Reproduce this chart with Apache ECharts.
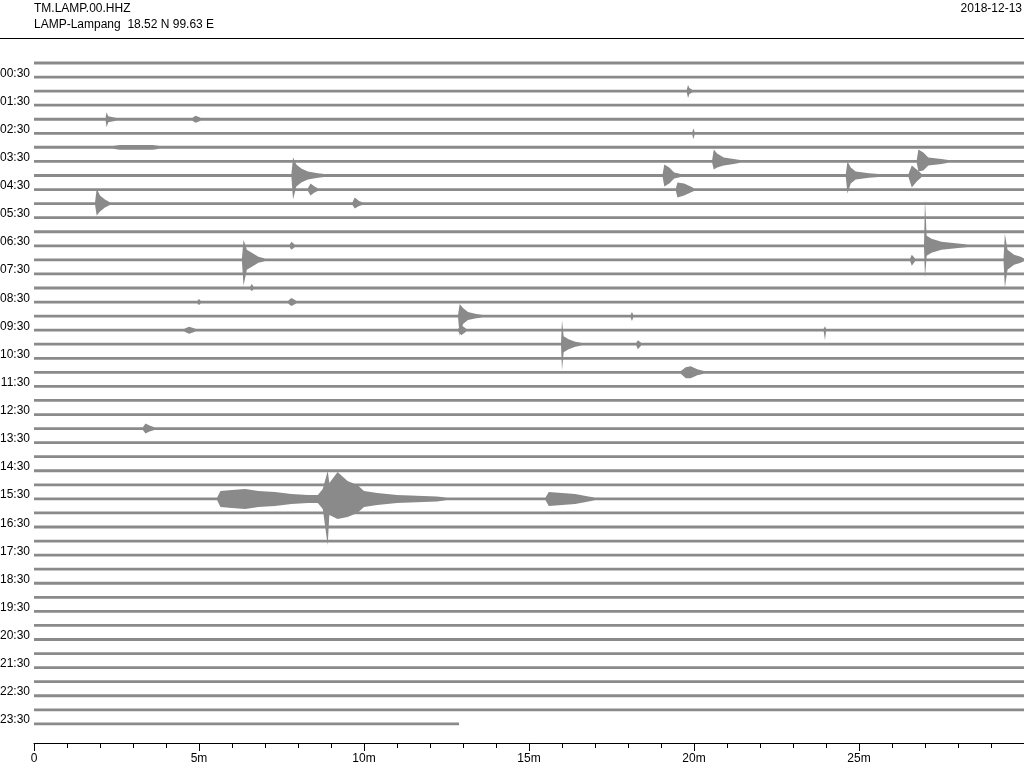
<!DOCTYPE html>
<html><head><meta charset="utf-8">
<script src="https://cdn.jsdelivr.net/npm/echarts@6/dist/echarts.min.js"></script>
<style>html,body{margin:0;padding:0;background:#fff}#c{width:1024px;height:768px}</style>
</head><body><div id="c"></div><script>
const stationCode = 'TM.LAMP.00.HHZ';
const stationInfo = 'LAMP-Lampang  18.52 N 99.63 E';
const dayLabel = '2018-12-13';
const hourLabels = ['00:30','01:30','02:30','03:30','04:30','05:30','06:30','07:30','08:30','09:30','10:30','11:30',
  '12:30','13:30','14:30','15:30','16:30','17:30','18:30','19:30','20:30','21:30','22:30','23:30'];
const minuteTickLabels = ['0','5m','10m','15m','20m','25m'];
const traceCount = 48;          // one trace per 30 minutes
const traceMinutes = 30;
const lastTraceEnd = 12.88;     // last trace stops at ~12.9 min
// background noise half-amplitude of each trace
const noiseLevel = [1.4,1.4,1.4,1.4,1.4,1.4,1.5,1.4,1.4,1.4,1.4,1.4,1.4,1.4,1.4,1.4,
  1.4,1.4,1.4,1.4,1.4,1.4,1.4,1.4,1.4,1.4,1.4,1.4,1.4,1.4,1.4,1.4,
  1.4,1.4,1.4,1.4,1.4,1.4,1.4,1.4,1.4,1.4,1.4,1.4,1.4,1.4,1.4,1.4];
// envelope vertices of the visible signals: [trace, minute, upper amplitude, lower amplitude]
const eventVertices = [
  [2,19.78,1.4,1.4],[2,19.82,6,7],[2,19.86,3,3],[2,19.95,1.4,1.4],
  [4,2.17,1.4,1.4],[4,2.2,7,8],[4,2.25,3,3],[4,2.4,2,2],[4,2.5,1.4,1.4],
  [4,4.8,1.4,1.4],[4,4.9,3.5,3.5],[4,5.05,1.4,1.4],
  [5,19.95,1.4,1.4],[5,19.98,5,6],[5,20.02,1.4,1.4],
  [6,2.4,1.5,1.5],[6,2.6,2.4,2.4],[6,3.6,2.4,2.4],[6,3.8,1.5,1.5],
  [7,20.55,1.4,1.4],[7,20.6,12,8],[7,20.7,8,6],[7,20.9,4,4],[7,21.2,2.5,2.5],[7,21.4,1.4,1.4],
  [7,26.75,1.4,1.4],[7,26.8,12,10],[7,26.95,9,9],[7,27.1,4,4],[7,27.5,2.5,2.5],[7,27.7,1.4,1.4],
  [8,7.8,1.4,1.4],[8,7.85,18,24],[8,7.95,11,11],[8,8.1,7,7],[8,8.3,4,4],[8,8.6,2.2,2.2],[8,8.8,1.4,1.4],
  [8,19.05,1.4,1.4],[8,19.1,11,11],[8,19.25,8,8],[8,19.4,3,3],[8,19.6,1.4,1.4],
  [8,24.6,1.4,1.4],[8,24.65,14,18],[8,24.75,8,8],[8,24.9,4,4],[8,25.3,2.2,2.2],[8,25.6,1.4,1.4],
  [8,26.5,1.4,1.4],[8,26.6,10,12],[8,26.75,6,6],[8,26.9,1.4,1.4],
  [9,8.3,1.4,1.4],[9,8.38,6,6],[9,8.5,3,3],[9,8.6,1.4,1.4],
  [9,19.45,1.4,1.4],[9,19.5,7,8],[9,19.7,6,6],[9,19.9,3,3],[9,20.0,1.4,1.4],
  [10,1.85,1.4,1.4],[10,1.9,15,12],[10,2.0,8,8],[10,2.15,4,4],[10,2.3,1.4,1.4],
  [10,9.65,1.4,1.4],[10,9.72,6,5],[10,9.85,2.5,2.5],[10,9.95,1.4,1.4],
  [13,7.75,1.4,1.4],[13,7.8,4,4],[13,7.9,1.4,1.4],
  [13,26.97,1.4,1.4],[13,27.0,46,32],[13,27.05,10,10],[13,27.2,7,7],[13,27.5,4,4],[13,28.0,2.2,2.2],[13,28.3,1.4,1.4],
  [14,6.3,1.4,1.4],[14,6.35,20,26],[14,6.45,10,10],[14,6.6,7,7],[14,6.8,3,3],[14,7.0,1.4,1.4],
  [14,26.55,1.4,1.4],[14,26.6,5,6],[14,26.7,1.4,1.4],
  [14,29.38,1.4,1.4],[14,29.42,26,28],[14,29.5,10,10],[14,29.7,5,5],[14,29.9,3,3],
  [16,6.55,1.4,1.4],[16,6.6,4,3],[16,6.65,1.4,1.4],
  [17,4.95,1.4,1.4],[17,5.0,3,3],[17,5.05,1.4,1.4],
  [17,7.7,1.4,1.4],[17,7.8,4,4],[17,7.95,1.4,1.4],
  [18,12.85,1.4,1.4],[18,12.9,12,20],[18,13.0,8,8],[18,13.15,4,4],[18,13.4,2.2,2.2],[18,13.6,1.4,1.4],
  [18,18.08,1.4,1.4],[18,18.12,4,5],[18,18.16,1.4,1.4],
  [19,4.55,1.4,1.4],[19,4.7,3.5,3.5],[19,4.9,1.4,1.4],
  [19,12.85,1.4,1.4],[19,12.95,5,5],[19,13.1,1.4,1.4],
  [19,23.93,1.4,1.4],[19,23.97,4,10],[19,24.0,1.4,1.4],
  [20,15.97,1.4,1.4],[20,16.0,24,26],[20,16.05,8,8],[20,16.2,5,5],[20,16.4,2.5,2.5],[20,16.6,1.4,1.4],
  [20,18.25,1.4,1.4],[20,18.3,4,5],[20,18.4,1.4,1.4],
  [22,19.6,1.4,1.4],[22,19.75,5,6],[22,19.9,6,6],[22,20.1,3,3],[22,20.3,1.4,1.4],
  [26,3.3,1.4,1.4],[26,3.38,5,5],[26,3.5,3,3],[26,3.65,1.4,1.4],
  [31,5.55,1.4,1.4],[31,5.65,8,8],[31,6.0,9,9],[31,6.4,10,10],[31,6.8,8,8],[31,7.3,7,7],[31,7.8,5,5],
  [31,8.3,4,4],[31,8.6,4,4],[31,8.75,10,10],[31,8.9,28,46],[31,8.95,16,16],[31,9.2,27,20],[31,9.5,18,18],
  [31,9.8,14,14],[31,10.0,8,8],[31,10.4,6,6],[31,11.0,4,4],[31,12.2,2.5,2.5],[31,12.5,1.4,1.4],
  [31,15.5,1.4,1.4],[31,15.6,7,7],[31,16.0,6,6],[31,16.4,5,5],[31,16.8,2.5,2.5],[31,17.0,1.4,1.4]
];

// ---- build per-trace envelopes ----
const traceEnvelopes = [];
for (let t = 0; t < traceCount; t++) {
  const n = noiseLevel[t];
  const end = t === traceCount - 1 ? lastTraceEnd : traceMinutes;
  const pts = eventVertices.filter(e => e[0] === t).map(e => [e[1], e[2], e[3]]).sort((a, b) => a[0] - b[0]);
  traceEnvelopes.push([[0, n, n]].concat(pts, [[end, n, n]]));
}

const FONT = '"Liberation Sans", Arial, sans-serif';
const ampUnit = 1 / 14.06;  // amplitude units -> trace spacing
const traceOffset = 0.27;   // trace drawn slightly below its label

const chart = echarts.init(document.getElementById('c'), null, {renderer: 'canvas'});
chart.setOption({
  animation: false,
  backgroundColor: '#fff',
  grid: {left: 34, right: 0, top: 45.14, bottom: 25, containLabel: false, outerBoundsMode: 'none'},
  xAxis: {
    type: 'value', min: 0, max: traceMinutes, interval: 5, position: 'bottom',
    axisLine: {show: true, onZero: false, lineStyle: {color: '#000', width: 1}},
    axisTick: {show: true, length: 8, lineStyle: {color: '#000'}},
    minorTick: {show: true, splitNumber: 5, length: 5, lineStyle: {color: '#000'}},
    splitLine: {show: false},
    axisLabel: {color: '#000', fontSize: 12, fontFamily: FONT, margin: 10,
      formatter: v => { const k = Math.round(v / 5); return (k < minuteTickLabels.length) ? minuteTickLabels[k] : ''; }}
  },
  yAxis: {
    type: 'value', inverse: true, min: -1, max: 48.63, interval: 1,
    axisLine: {show: false}, axisTick: {show: false}, splitLine: {show: false},
    axisLabel: {color: '#000', fontSize: 12, fontFamily: FONT, margin: 4, showMaxLabel: false,
      formatter: v => (Number.isInteger(v) && v >= 1 && v % 2 === 1) ? (hourLabels[(v - 1) / 2] || '') : ''}
  },
  graphic: [
    {type: 'text', left: 34, top: 3, style: {text: stationCode, font: '12px ' + FONT, fill: '#000'}},
    {type: 'text', left: 34, top: 19, style: {text: stationInfo, font: '12px ' + FONT, fill: '#000'}},
    {type: 'text', right: 2, top: 3, style: {text: dayLabel, font: '12px ' + FONT, fill: '#000'}},
    {type: 'line', shape: {x1: 0, y1: 38.5, x2: 1024, y2: 38.5}, style: {stroke: '#000', lineWidth: 1}}
  ],
  series: [{
    type: 'custom',
    silent: true,
    clip: false,
    data: traceEnvelopes.map((e, t) => [0, t]),
    renderItem: (params, api) => {
      const t = api.value(1);
      const env = traceEnvelopes[t];
      const c = t + traceOffset;
      const pts = [];
      for (const v of env) pts.push(api.coord([v[0], c - v[1] * ampUnit]));
      for (let k = env.length - 1; k >= 0; k--) pts.push(api.coord([env[k][0], c + env[k][2] * ampUnit]));
      return {type: 'polygon', shape: {points: pts}, style: {fill: '#8a8a8a', stroke: null}};
    }
  }]
});
</script></body></html>
